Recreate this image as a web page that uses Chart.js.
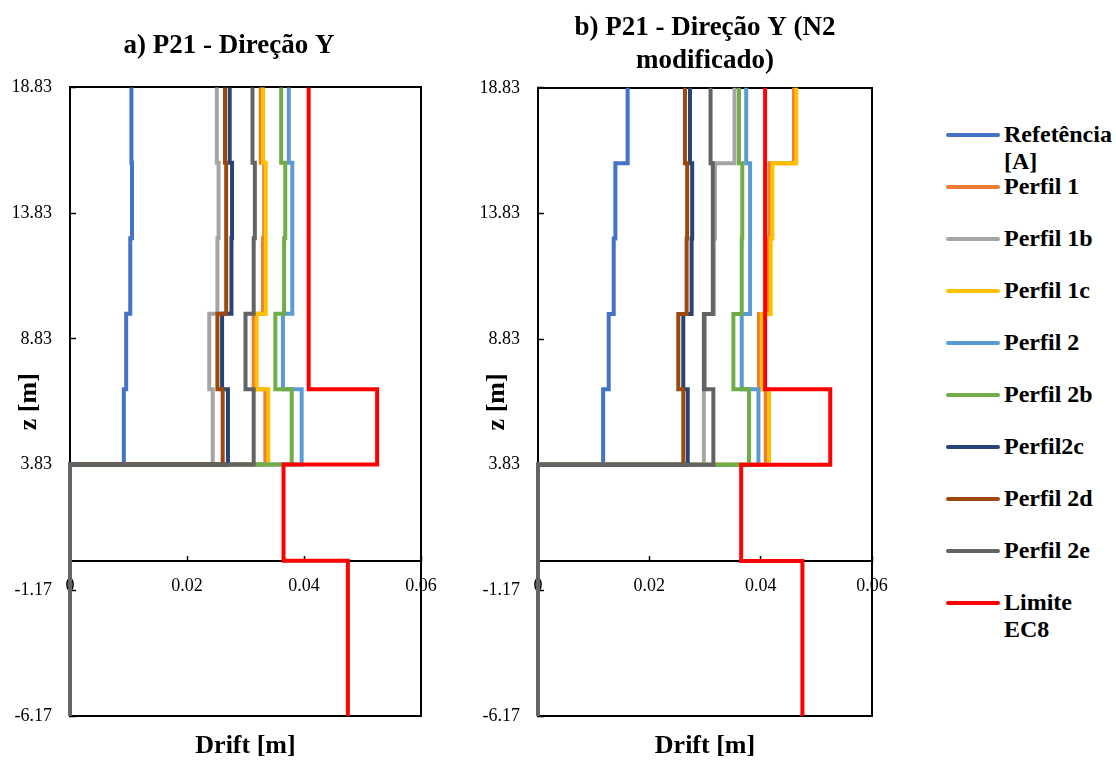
<!DOCTYPE html>
<html>
<head>
<meta charset="utf-8">
<script src="https://cdn.jsdelivr.net/npm/chart.js@4.4.1/dist/chart.umd.min.js"></script>
<style>
body{margin:0;background:#fff;width:1116px;height:762px;position:relative;overflow:hidden;font-family:"Liberation Serif","Times New Roman",serif}
.panel{position:absolute;top:0;height:762px}
#pa{left:0;width:458px}
#pb{left:468px;width:474px}
#legend{position:absolute;left:946px;top:121px;width:170px}
.row{height:52px;display:flex;align-items:flex-start}
.swatch{width:54px;height:4px;margin-top:12px;border-radius:2px;flex:none}
.label{margin-left:4px;width:110px;font-weight:bold;font-size:24px;line-height:27px;color:#000}
</style>
</head>
<body>
<div class="panel" id="pa"><canvas id="ca"></canvas></div>
<div class="panel" id="pb"><canvas id="cb"></canvas></div>
<div id="legend"></div>
<script>
// storey levels (z, m) and axis ticks
const baseLevel = -6.17;
const storeyLevels = [3.83, 6.83, 9.83, 12.83, 15.83, 18.83];
const yTicks = [-6.17, -1.17, 3.83, 8.83, 13.83, 18.83];
const xTicks = [0, 0.02, 0.04, 0.06];

const seriesNames = ['Refetência [A]', 'Perfil 1', 'Perfil 1b', 'Perfil 1c', 'Perfil 2', 'Perfil 2b', 'Perfil2c', 'Perfil 2d', 'Perfil 2e'];
const seriesColors = ['#4472C4', '#ED7D31', '#A5A5A5', '#FFC000', '#5B9BD5', '#70AD47', '#264478', '#9E480E', '#636363'];
const limitName = 'Limite EC8';
const limitColor = '#FF0000';

// drift per storey, bottom to top - panel a
const refA = [0.0092, 0.0096, 0.0103, 0.0106, 0.0105];
const p1A = [0.0334, 0.0314, 0.0330, 0.0332, 0.0326];
const p1bA = [0.0244, 0.0238, 0.0252, 0.0254, 0.0251];
const p1cA = [0.0339, 0.0319, 0.0334, 0.0335, 0.0330];
const p2A = [0.0396, 0.0364, 0.0380, 0.0380, 0.0374];
const p2bA = [0.0379, 0.0351, 0.0366, 0.0368, 0.0361];
const p2cA = [0.0270, 0.0260, 0.0276, 0.0277, 0.0273];
const p2dA = [0.0261, 0.0252, 0.0267, 0.0267, 0.0265];
const p2eA = [0.0314, 0.0300, 0.0314, 0.0316, 0.0312];

// panel b (N2 modificado)
const refB = [0.0117, 0.0127, 0.0136, 0.0139, 0.0161];
const p1B = [0.0409, 0.0397, 0.0412, 0.0416, 0.0460];
const p1bB = [0.0298, 0.0300, 0.0316, 0.0318, 0.0353];
const p1cB = [0.0415, 0.0402, 0.0418, 0.0421, 0.0464];
const p2B = [0.0396, 0.0366, 0.0381, 0.0381, 0.0374];
const p2bB = [0.0379, 0.0351, 0.0366, 0.0367, 0.0361];
const p2cB = [0.0269, 0.0261, 0.0276, 0.0277, 0.0273];
const p2dB = [0.0261, 0.0252, 0.0267, 0.0268, 0.0264];
const p2eB = [0.0315, 0.0298, 0.0314, 0.0314, 0.0310];

// EC8 limit
const limitLevels = [-6.17, 0, 3.83, 6.83, 18.83];
const limitDrift = [0.0475, 0.0365, 0.0525, 0.0408];

const FONT = '"Liberation Serif", "Times New Roman", serif';

function stepPath(levels, values) {
  const pts = [];
  values.forEach((v, i) => {
    pts.push({x: v, y: levels[i]});
    pts.push({x: v, y: levels[i + 1]});
  });
  return pts;
}

function buildDatasets(sets) {
  const n = sets.length + 1;
  const ds = sets.map((vals, i) => ({
    label: seriesNames[i],
    data: stepPath([baseLevel].concat(storeyLevels), [0].concat(vals)),
    borderColor: seriesColors[i],
    borderWidth: 4,
    pointRadius: 0,
    tension: 0,
    clip: 5,
    order: n - i
  }));
  ds.push({
    label: limitName,
    data: stepPath(limitLevels, limitDrift),
    borderColor: limitColor,
    borderWidth: 4,
    pointRadius: 0,
    tension: 0,
    clip: 5,
    order: 1
  });
  return ds;
}

function borderOnly(pos, fit) {
  return {
    type: 'linear', position: pos, display: true,
    min: pos === 'top' ? 0 : baseLevel, max: pos === 'top' ? 0.06 : 18.83,
    ticks: {display: false},
    grid: {display: false, drawTicks: false},
    border: {display: true, color: '#000', width: 2},
    afterFit: fit
  };
}

function makeChart(id, title, titlePad, rightWidth, sets) {
  new Chart(document.getElementById(id), {
    type: 'line',
    data: {datasets: buildDatasets(sets)},
    options: {
      responsive: true,
      maintainAspectRatio: false,
      animation: false,
      parsing: false,
      layout: {padding: 0},
      plugins: {
        legend: {display: false},
        tooltip: {enabled: false},
        title: {
          display: true, text: title, color: '#000',
          font: {family: FONT, size: 27, weight: 'bold', lineHeight: 1.2},
          padding: titlePad
        }
      },
      scales: {
        x: {
          type: 'linear', position: {y: 0}, min: 0, max: 0.06,
          afterBuildTicks: s => { s.ticks = xTicks.map(v => ({value: v})); },
          ticks: {color: '#000', font: {family: FONT, size: 18}, padding: 21, callback: v => String(v)},
          grid: {display: true, drawOnChartArea: false, drawTicks: true, tickLength: -6, color: '#000', tickWidth: 1.5},
          border: {display: true, color: '#000', width: 2}
        },
        y: {
          type: 'linear', position: 'left', min: baseLevel, max: 18.83,
          afterBuildTicks: s => { s.ticks = yTicks.map(v => ({value: v})); },
          afterFit: s => { s.width = 70; },
          ticks: {color: '#000', font: {family: FONT, size: 18}, padding: 24, callback: v => String(v)},
          grid: {display: true, drawOnChartArea: false, drawTicks: true, tickLength: -6, color: '#000', tickWidth: 1.5},
          border: {display: true, color: '#000', width: 2},
          title: {display: true, text: 'z [m]', color: '#000', font: {family: FONT, size: 26, weight: 'bold'}, padding: {top: 14, bottom: 0}}
        },
        xt: Object.assign(borderOnly('bottom', s => { s.height = 46; }), {
          min: 0, max: 0.06,
          title: {display: true, text: 'Drift [m]', color: '#000', font: {family: FONT, size: 26, weight: 'bold'}, padding: {top: 0, bottom: 0}}
        }),
        xTop: borderOnly('top'),
        yRight: borderOnly('right', s => { s.width = rightWidth; })
      }
    }
  });
}

makeChart('ca', 'a) P21 - Direção Y', {top: 30, bottom: 25}, 37, [refA, p1A, p1bA, p1cA, p2A, p2bA, p2cA, p2dA, p2eA]);
makeChart('cb', ['b) P21 - Direção Y (N2', 'modificado)'], {top: 12, bottom: 11}, 70, [refB, p1B, p1bB, p1cB, p2B, p2bB, p2cB, p2dB, p2eB]);

// legend
const legend = document.getElementById('legend');
seriesNames.concat([limitName]).forEach((name, i) => {
  const row = document.createElement('div');
  row.className = 'row';
  const sw = document.createElement('div');
  sw.className = 'swatch';
  sw.style.background = i < seriesColors.length ? seriesColors[i] : limitColor;
  const lb = document.createElement('div');
  lb.className = 'label';
  lb.textContent = name;
  row.appendChild(sw);
  row.appendChild(lb);
  legend.appendChild(row);
});
</script>
</body>
</html>
